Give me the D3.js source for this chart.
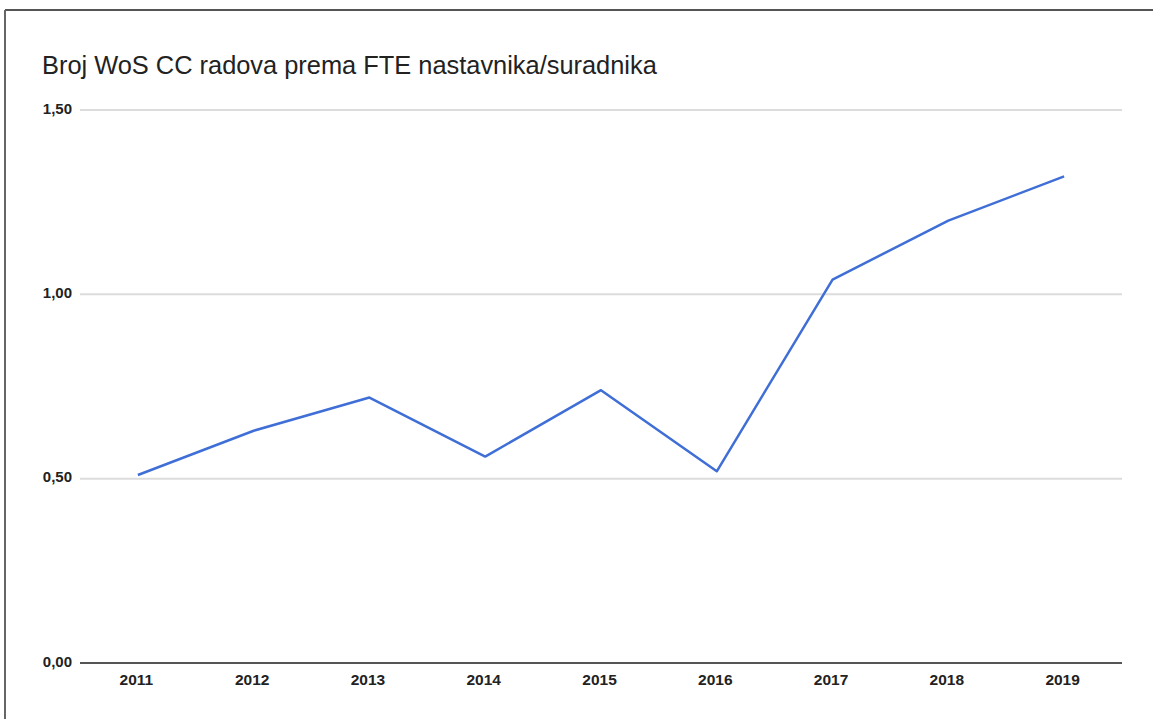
<!DOCTYPE html>
<html>
<head>
<meta charset="utf-8">
<script src="https://cdn.jsdelivr.net/npm/d3@7"></script>
<style>
    body { margin: 0; background: #fff; }
    text { font-family: "Liberation Sans", Arial, sans-serif; }
    .tick-label { font-weight: bold; fill: #222; }
</style>
</head>
<body>
<div id="vis"></div>
<script>
// chart data
var years = ['2011', '2012', '2013', '2014', '2015', '2016', '2017', '2018', '2019'];
var values = [0.51, 0.63, 0.72, 0.56, 0.74, 0.52, 1.04, 1.20, 1.32];
var yTicks = [0, 0.5, 1, 1.5];
var yTickLabels = ['0,00', '0,50', '1,00', '1,50'];
var title = 'Broj WoS CC radova prema FTE nastavnika/suradnika';

var width = 1153;
var height = 719;
var margin = { top: 110, right: 31, bottom: 56, left: 80 };
var drawWidth = width - margin.left - margin.right;
var drawHeight = height - margin.top - margin.bottom;

var svg = d3.select('#vis')
            .append('svg')
            .attr('width', width)
            .attr('height', height);

// scanned page frame (top and left edges only)
svg.append('line')
    .attr('x1', 5).attr('x2', width).attr('y1', 10).attr('y2', 10)
    .attr('stroke', '#555').attr('stroke-width', 2);
svg.append('line')
    .attr('x1', 5).attr('x2', 5).attr('y1', 10).attr('y2', height)
    .attr('stroke', '#666').attr('stroke-width', 2);

svg.append('text')
    .attr('x', 42)
    .attr('y', 74)
    .style('font-size', '25.4px')
    .style('fill', '#222')
    .text(title);

var g = svg.append('g')
            .attr('transform', 'translate(' + margin.left + ', ' + margin.top + ')');

var xScale = d3.scalePoint()
                .domain(years)
                .range([0, drawWidth])
                .padding(0.5);

var yScale = d3.scaleLinear()
                .domain([0, 1.5])
                .range([drawHeight, 0]);

// gridlines
g.selectAll('.grid')
    .data(yTicks.filter(function(d) { return d > 0; }))
    .enter().append('line')
    .attr('class', 'grid')
    .attr('x1', 0)
    .attr('x2', drawWidth)
    .attr('y1', function(d) { return yScale(d); })
    .attr('y2', function(d) { return yScale(d); })
    .attr('stroke', '#dcdcdc')
    .attr('stroke-width', 2);

// y axis labels
var yAxis = d3.axisLeft(yScale)
                .tickValues(yTicks)
                .tickFormat(function(d, i) { return yTickLabels[i]; })
                .tickSize(0)
                .tickPadding(8);
var yAxisG = g.append('g').call(yAxis);
yAxisG.select('.domain').remove();
yAxisG.selectAll('text')
    .attr('class', 'tick-label')
    .style('font-size', '15px')
    .attr('dy', '0.2em');

// baseline
g.append('line')
    .attr('x1', 0)
    .attr('x2', drawWidth)
    .attr('y1', yScale(0))
    .attr('y2', yScale(0))
    .attr('stroke', '#555')
    .attr('stroke-width', 2);

// x axis labels
var xAxis = d3.axisBottom(xScale)
                .tickSize(0)
                .tickPadding(11);
var xAxisG = g.append('g')
                .attr('transform', 'translate(0, ' + drawHeight + ')')
                .call(xAxis);
xAxisG.select('.domain').remove();
xAxisG.selectAll('text')
    .attr('class', 'tick-label')
    .style('font-size', '15.5px')
    .attr('dx', '-2px');

// the line
var line = d3.line()
                .x(function(d, i) { return xScale(years[i]); })
                .y(function(d) { return yScale(d); });

g.append('path')
    .datum(values)
    .attr('d', line)
    .attr('fill', 'none')
    .attr('stroke', '#3f6fd6')
    .attr('stroke-width', 2.5)
    .attr('stroke-linejoin', 'round');
</script>
</body>
</html>
